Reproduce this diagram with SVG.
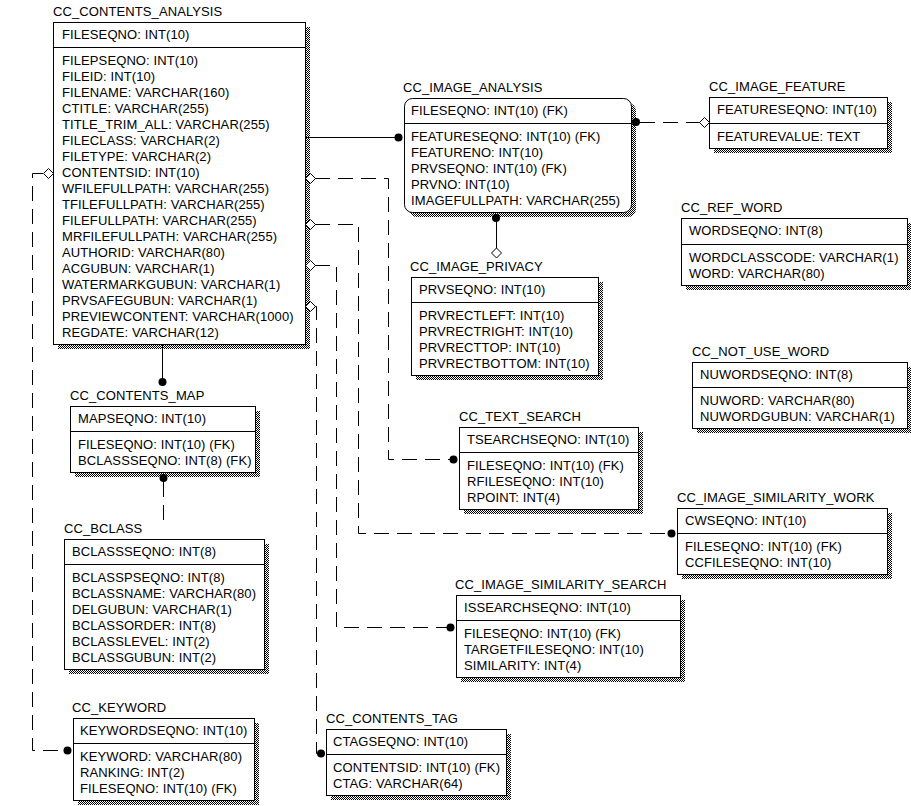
<svg xmlns="http://www.w3.org/2000/svg" width="911" height="806" viewBox="0 0 911 806">
<defs>
<pattern id="dither" width="2" height="2" patternUnits="userSpaceOnUse"><rect width="2" height="2" fill="#fff"/><rect width="1" height="1" fill="#000"/><rect x="1" y="1" width="1" height="1" fill="#000"/></pattern>
<style>
.t{font-family:"Liberation Sans",Arial,sans-serif;font-size:13px;letter-spacing:0.1px;fill:#000}
.box{fill:#fff;stroke:#000;stroke-width:1}
.sh{fill:url(#dither);stroke:none}
.div{stroke:#000;stroke-width:1}
.ln{fill:none;stroke:#000;stroke-width:1}
.dash{fill:none;stroke:#000;stroke-width:1;stroke-dasharray:15 8}
.dot{fill:#000}
.dia{fill:#fff;stroke:#000;stroke-width:1}
</style>
</defs>
<rect width="911" height="806" fill="#fff"/>

<g id="CC_CONTENTS_ANALYSIS">
<rect class="sh" x="58" y="27" width="252" height="322"/>
<rect class="box" x="53.5" y="22.5" width="252" height="322"/>
<line class="div" x1="53.5" y1="47.5" x2="305.5" y2="47.5"/>
<text class="t" x="53" y="16">CC_CONTENTS_ANALYSIS</text>
<text class="t" x="62" y="39">FILESEQNO: INT(10)</text>
<text class="t" x="62" y="65">FILEPSEQNO: INT(10)</text>
<text class="t" x="62" y="81">FILEID: INT(10)</text>
<text class="t" x="62" y="97">FILENAME: VARCHAR(160)</text>
<text class="t" x="62" y="113">CTITLE: VARCHAR(255)</text>
<text class="t" x="62" y="129">TITLE_TRIM_ALL: VARCHAR(255)</text>
<text class="t" x="62" y="145">FILECLASS: VARCHAR(2)</text>
<text class="t" x="62" y="161">FILETYPE: VARCHAR(2)</text>
<text class="t" x="62" y="177">CONTENTSID: INT(10)</text>
<text class="t" x="62" y="193">WFILEFULLPATH: VARCHAR(255)</text>
<text class="t" x="62" y="209">TFILEFULLPATH: VARCHAR(255)</text>
<text class="t" x="62" y="225">FILEFULLPATH: VARCHAR(255)</text>
<text class="t" x="62" y="241">MRFILEFULLPATH: VARCHAR(255)</text>
<text class="t" x="62" y="257">AUTHORID: VARCHAR(80)</text>
<text class="t" x="62" y="273">ACGUBUN: VARCHAR(1)</text>
<text class="t" x="62" y="289">WATERMARKGUBUN: VARCHAR(1)</text>
<text class="t" x="62" y="305">PRVSAFEGUBUN: VARCHAR(1)</text>
<text class="t" x="62" y="321">PREVIEWCONTENT: VARCHAR(1000)</text>
<text class="t" x="62" y="337">REGDATE: VARCHAR(12)</text>
</g>

<g id="CC_IMAGE_ANALYSIS">
<rect class="sh" x="409" y="103" width="227" height="114" rx="8"/>
<rect class="box" x="404.5" y="98.5" width="227" height="114" rx="8"/>
<line class="div" x1="404.5" y1="123.5" x2="631.5" y2="123.5"/>
<text class="t" x="403" y="92">CC_IMAGE_ANALYSIS</text>
<text class="t" x="411" y="115">FILESEQNO: INT(10) (FK)</text>
<text class="t" x="411" y="141">FEATURESEQNO: INT(10) (FK)</text>
<text class="t" x="411" y="157">FEATURENO: INT(10)</text>
<text class="t" x="411" y="173">PRVSEQNO: INT(10) (FK)</text>
<text class="t" x="411" y="189">PRVNO: INT(10)</text>
<text class="t" x="411" y="205">IMAGEFULLPATH: VARCHAR(255)</text>
</g>

<g id="CC_IMAGE_FEATURE">
<rect class="sh" x="714" y="102" width="178" height="51"/>
<rect class="box" x="709.5" y="97.5" width="178" height="51"/>
<line class="div" x1="709.5" y1="123.5" x2="887.5" y2="123.5"/>
<text class="t" x="709" y="91">CC_IMAGE_FEATURE</text>
<text class="t" x="717" y="114">FEATURESEQNO: INT(10)</text>
<text class="t" x="717" y="141">FEATUREVALUE: TEXT</text>
</g>

<g id="CC_REF_WORD">
<rect class="sh" x="686" y="223" width="226" height="67"/>
<rect class="box" x="681.5" y="218.5" width="226" height="67"/>
<line class="div" x1="681.5" y1="244.5" x2="907.5" y2="244.5"/>
<text class="t" x="681" y="212">CC_REF_WORD</text>
<text class="t" x="689" y="235">WORDSEQNO: INT(8)</text>
<text class="t" x="689" y="262">WORDCLASSCODE: VARCHAR(1)</text>
<text class="t" x="689" y="278">WORD: VARCHAR(80)</text>
</g>

<g id="CC_NOT_USE_WORD">
<rect class="sh" x="697" y="367" width="215" height="66"/>
<rect class="box" x="692.5" y="362.5" width="215" height="66"/>
<line class="div" x1="692.5" y1="387.5" x2="907.5" y2="387.5"/>
<text class="t" x="692" y="356">CC_NOT_USE_WORD</text>
<text class="t" x="700" y="379">NUWORDSEQNO: INT(8)</text>
<text class="t" x="700" y="405">NUWORD: VARCHAR(80)</text>
<text class="t" x="700" y="421">NUWORDGUBUN: VARCHAR(1)</text>
</g>

<g id="CC_IMAGE_PRIVACY">
<rect class="sh" x="416" y="282" width="187" height="98"/>
<rect class="box" x="411.5" y="277.5" width="187" height="98"/>
<line class="div" x1="411.5" y1="302.5" x2="598.5" y2="302.5"/>
<text class="t" x="410" y="271">CC_IMAGE_PRIVACY</text>
<text class="t" x="419" y="294">PRVSEQNO: INT(10)</text>
<text class="t" x="419" y="320">PRVRECTLEFT: INT(10)</text>
<text class="t" x="419" y="336">PRVRECTRIGHT: INT(10)</text>
<text class="t" x="419" y="352">PRVRECTTOP: INT(10)</text>
<text class="t" x="419" y="368">PRVRECTBOTTOM: INT(10)</text>
</g>

<g id="CC_CONTENTS_MAP">
<rect class="sh" x="75" y="411" width="185" height="66"/>
<rect class="box" x="70.5" y="406.5" width="185" height="66"/>
<line class="div" x1="70.5" y1="431.5" x2="255.5" y2="431.5"/>
<text class="t" x="70" y="400">CC_CONTENTS_MAP</text>
<text class="t" x="78" y="423">MAPSEQNO: INT(10)</text>
<text class="t" x="78" y="449">FILESEQNO: INT(10) (FK)</text>
<text class="t" x="78" y="465">BCLASSSEQNO: INT(8) (FK)</text>
</g>

<g id="CC_BCLASS">
<rect class="sh" x="69" y="544" width="200" height="130"/>
<rect class="box" x="64.5" y="539.5" width="200" height="130"/>
<line class="div" x1="64.5" y1="564.5" x2="264.5" y2="564.5"/>
<text class="t" x="64" y="533">CC_BCLASS</text>
<text class="t" x="72" y="556">BCLASSSEQNO: INT(8)</text>
<text class="t" x="72" y="582">BCLASSPSEQNO: INT(8)</text>
<text class="t" x="72" y="598">BCLASSNAME: VARCHAR(80)</text>
<text class="t" x="72" y="614">DELGUBUN: VARCHAR(1)</text>
<text class="t" x="72" y="630">BCLASSORDER: INT(8)</text>
<text class="t" x="72" y="646">BCLASSLEVEL: INT(2)</text>
<text class="t" x="72" y="662">BCLASSGUBUN: INT(2)</text>
</g>

<g id="CC_KEYWORD">
<rect class="sh" x="78" y="723" width="181" height="82"/>
<rect class="box" x="73.5" y="718.5" width="181" height="82"/>
<line class="div" x1="73.5" y1="743.5" x2="254.5" y2="743.5"/>
<text class="t" x="72" y="712">CC_KEYWORD</text>
<text class="t" x="80" y="735">KEYWORDSEQNO: INT(10)</text>
<text class="t" x="80" y="761">KEYWORD: VARCHAR(80)</text>
<text class="t" x="80" y="777">RANKING: INT(2)</text>
<text class="t" x="80" y="793">FILESEQNO: INT(10) (FK)</text>
</g>

<g id="CC_CONTENTS_TAG">
<rect class="sh" x="331" y="734" width="180" height="66"/>
<rect class="box" x="326.5" y="729.5" width="180" height="66"/>
<line class="div" x1="326.5" y1="754.5" x2="506.5" y2="754.5"/>
<text class="t" x="326" y="723">CC_CONTENTS_TAG</text>
<text class="t" x="333" y="746">CTAGSEQNO: INT(10)</text>
<text class="t" x="333" y="772">CONTENTSID: INT(10) (FK)</text>
<text class="t" x="333" y="788">CTAG: VARCHAR(64)</text>
</g>

<g id="CC_TEXT_SEARCH">
<rect class="sh" x="464" y="432" width="179" height="82"/>
<rect class="box" x="459.5" y="427.5" width="179" height="82"/>
<line class="div" x1="459.5" y1="452.5" x2="638.5" y2="452.5"/>
<text class="t" x="459" y="421">CC_TEXT_SEARCH</text>
<text class="t" x="467" y="444">TSEARCHSEQNO: INT(10)</text>
<text class="t" x="467" y="470">FILESEQNO: INT(10) (FK)</text>
<text class="t" x="467" y="486">RFILESEQNO: INT(10)</text>
<text class="t" x="467" y="502">RPOINT: INT(4)</text>
</g>

<g id="CC_IMAGE_SIMILARITY_WORK">
<rect class="sh" x="682" y="513" width="210" height="66"/>
<rect class="box" x="677.5" y="508.5" width="210" height="66"/>
<line class="div" x1="677.5" y1="533.5" x2="887.5" y2="533.5"/>
<text class="t" x="677" y="502">CC_IMAGE_SIMILARITY_WORK</text>
<text class="t" x="685" y="525">CWSEQNO: INT(10)</text>
<text class="t" x="685" y="551">FILESEQNO: INT(10) (FK)</text>
<text class="t" x="685" y="567">CCFILESEQNO: INT(10)</text>
</g>

<g id="CC_IMAGE_SIMILARITY_SEARCH">
<rect class="sh" x="461" y="600" width="224" height="82"/>
<rect class="box" x="456.5" y="595.5" width="224" height="82"/>
<line class="div" x1="456.5" y1="620.5" x2="680.5" y2="620.5"/>
<text class="t" x="455" y="589">CC_IMAGE_SIMILARITY_SEARCH</text>
<text class="t" x="464" y="612">ISSEARCHSEQNO: INT(10)</text>
<text class="t" x="464" y="638">FILESEQNO: INT(10) (FK)</text>
<text class="t" x="464" y="654">TARGETFILESEQNO: INT(10)</text>
<text class="t" x="464" y="670">SIMILARITY: INT(4)</text>
</g>

<g id="connectors">
<path class="ln" d="M305,137.5 H397"/>
<circle class="dot" cx="398.5" cy="137.5" r="4"/>
<path class="ln" d="M162.5,345 V380"/>
<circle class="dot" cx="162.5" cy="382" r="4"/>
<circle class="dot" cx="163.5" cy="478" r="4"/>
<path class="dash" d="M163.5,482 V520"/>
<circle class="dot" cx="636" cy="122" r="4"/>
<path class="dash" d="M640,122.5 H700"/>
<polygon class="dia" points="699.5,122.5 704.5,117.5 709.5,122.5 704.5,127.5"/>
<circle class="dot" cx="496" cy="218" r="4"/>
<path class="ln" d="M496.5,218 V248"/>
<polygon class="dia" points="496.5,248 501.5,253 496.5,258 491.5,253"/>
<path class="dash" d="M43,173.5 H32.5 V750.5 H64"/>
<polygon class="dia" points="43.5,173.5 48.5,168.5 53.5,173.5 48.5,178.5"/>
<circle class="dot" cx="67.5" cy="750.5" r="4"/>
<path class="dash" d="M315,178.5 H388.5 V459.5 H450"/>
<polygon class="dia" points="305.5,178.5 310.5,173.5 315.5,178.5 310.5,183.5"/>
<circle class="dot" cx="453.5" cy="459.5" r="4"/>
<path class="dash" d="M315,224.5 H358.5 V533.5 H668"/>
<polygon class="dia" points="305.5,224.5 310.5,219.5 315.5,224.5 310.5,229.5"/>
<circle class="dot" cx="671.5" cy="533.5" r="4"/>
<path class="dash" d="M315,265.5 H336.5 V627.5 H447"/>
<polygon class="dia" points="305.5,265.5 310.5,260.5 315.5,265.5 310.5,270.5"/>
<circle class="dot" cx="450.5" cy="627.5" r="4"/>
<path class="dash" d="M315,306.5 H316.5 V753.5 H318"/>
<polygon class="dia" points="305.5,306.5 310.5,301.5 315.5,306.5 310.5,311.5"/>
<circle class="dot" cx="321" cy="753.5" r="4"/>
</g>
</svg>
